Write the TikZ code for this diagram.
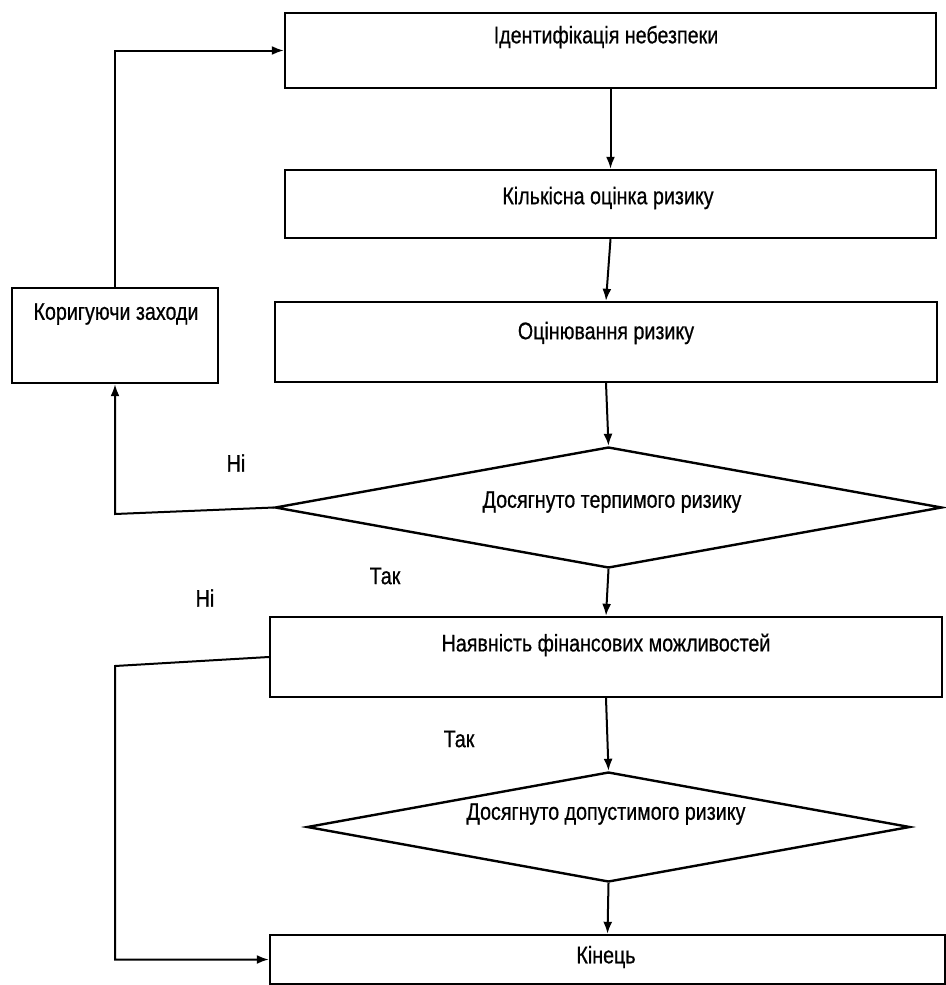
\documentclass[tikz,border=0pt]{standalone}
\usepackage{fontspec}
\setmainfont{Liberation Sans}[FakeStretch=0.82,FakeBold=0.6]
\usetikzlibrary{arrows.meta,shapes.geometric}
\begin{document}
\begin{tikzpicture}[x=1pt,y=-1pt,
  every node/.style={font=\fontsize{24}{28}\selectfont},
  box/.style={draw, line width=2.4pt, inner sep=0pt, rectangle},
  dia/.style={draw, line width=2.4pt, diamond, inner sep=0pt},
  txt/.style={inner sep=0pt, anchor=center},
  arr/.style={line width=2pt, -{Latex[length=12pt,width=9pt]}},
  ln/.style={line width=2pt}]
\useasboundingbox (0,0) rectangle (945,985);
% boxes
\node[box, minimum width=651pt, minimum height=75pt] (b1) at (610.5,50.5) {};
\node[box, minimum width=651pt, minimum height=68pt] (b2) at (610.5,204) {};
\node[box, minimum width=662pt, minimum height=80pt] (b3) at (606,342) {};
\node[box, minimum width=206pt, minimum height=95pt] (kor) at (115,335.5) {};
\node[dia, minimum width=667pt, minimum height=121pt] (d1) at (608.5,507.5) {};
\node[box, minimum width=672pt, minimum height=80pt] (b5) at (606,657) {};
\node[dia, minimum width=603pt, minimum height=110pt] (d2) at (608.5,827) {};
\node[box, minimum width=675pt, minimum height=49pt] (kin) at (607.5,959.5) {};
% texts
\node[txt] (t1) at (606,37) {Ідентифікація небезпеки};
\node[txt] (t2) at (608,198) {Кількісна оцінка ризику};
\node[txt] (t3) at (606,333) {Оцінювання ризику};
\node[txt] (tk) at (116,314) {Коригуючи заходи};
\node[txt] (td1) at (612,502) {Досягнуто терпимого ризику};
\node[txt] (t5) at (606,645) {Наявність фінансових можливостей};
\node[txt] (td2) at (606,814) {Досягнуто допустимого ризику};
\node[txt] (tkin) at (606,957) {Кінець};
% branch labels
\node[txt] (no1) at (236,463) {Ні};
\node[txt] (yes1) at (385,576) {Так};
\node[txt] (no2) at (205,598) {Ні};
\node[txt] (yes2) at (459,739) {Так};
% connectors
\coordinate (c1) at (115,514);
\coordinate (c2) at (115,666);
\draw[arr] (b1.south) -- (b2.north);
\draw[arr] (b2.south) -- (b3.north);
\draw[arr] (b3.south) -- (d1.north);
\draw[arr] (d1.south) -- (b5.north);
\draw[arr] (b5.south) -- (d2.north);
\draw[arr] (d2.south) -- (kin.north);
\draw[arr] (d1.west) -- (c1) -- (kor.south);
\draw[arr] (kor.north) |- (b1.west);
\draw[arr] (b5.west) -- (c2) |- (kin.west);
\end{tikzpicture}
\end{document}
